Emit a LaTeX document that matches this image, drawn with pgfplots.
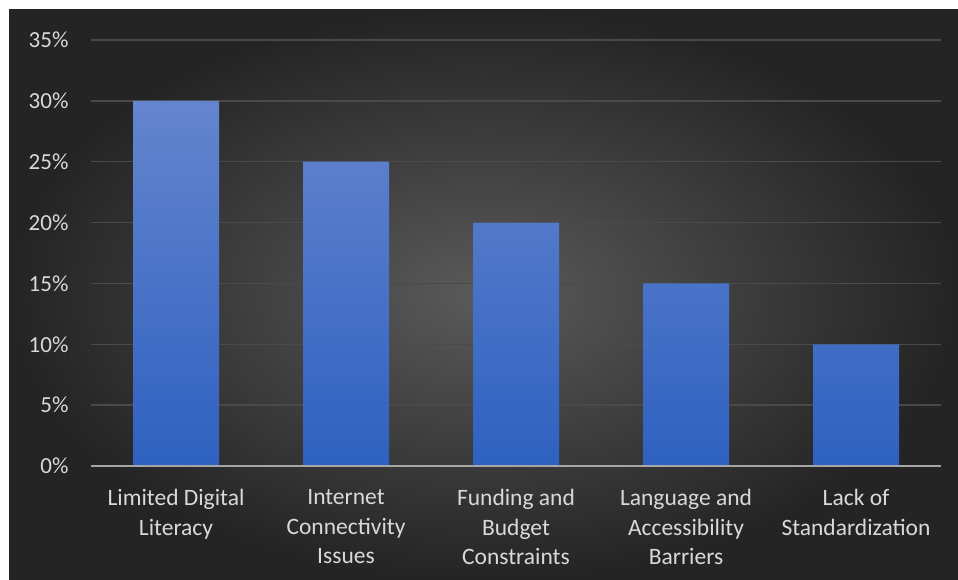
\documentclass[border=0pt]{standalone}
\usepackage{pgfplots}
\pgfplotsset{compat=1.18}
\usepackage{fontspec}
\setmainfont{Carlito}
\definecolor{bgin}{RGB}{90,90,90}
\definecolor{bgout}{RGB}{36,36,36}
\definecolor{bartop}{RGB}{100,133,206}
\definecolor{barbot}{RGB}{46,97,192}
\definecolor{txt}{RGB}{217,217,217}
\definecolor{gridc}{RGB}{74,74,74}
\definecolor{axc}{RGB}{166,166,166}
\begin{document}
\begin{tikzpicture}[x=1pt,y=1pt]
\fill[white] (0,0) rectangle (958,580);
\shade[inner color=bgin, outer color=bgout] (9,0) rectangle (958,570);
\begin{axis}[
  at={(91pt,114pt)}, anchor=south west,
  scale only axis, width=850pt, height=426pt,
  xmin=-0.5, xmax=4.5, ymin=0, ymax=35,
  axis line style={draw=none},
  axis x line*=bottom,
  tick style={draw=none},
  xtick=data,
  xticklabels={{Limited Digital\\Literacy},{Internet\\Connectivity\\Issues},{Funding and\\Budget\\Constraints},{Language and\\Accessibility\\Barriers},{Lack of\\Standardization}},
  ytick={0,5,10,15,20,25,30,35},
  yticklabels={0\%,5\%,10\%,15\%,20\%,25\%,30\%,35\%},
  ymajorgrids, grid style={gridc, line width=1.5pt},
  /pgf/number format/assume math mode=true,
  xticklabel style={align=center, text=txt, font=\fontsize{23.5}{29.5}\selectfont, anchor=north, yshift=-20pt},
  yticklabel style={text=txt, font=\fontsize{23}{26}\selectfont, anchor=east, xshift=-19pt},
  clip=false,
]
\addplot[ybar, bar width=86pt, draw=none, top color=bartop, bottom color=barbot] coordinates {(0,30) (1,25) (2,20) (3,15) (4,10)};
\draw[axc, line width=2pt] (axis cs:-0.5,0) -- (axis cs:4.5,0);
\end{axis}
\end{tikzpicture}
\end{document}
